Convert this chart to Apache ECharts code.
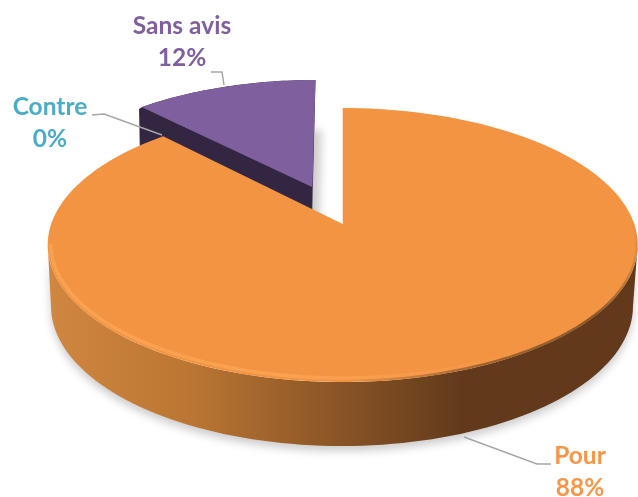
<!DOCTYPE html>
<html>
<head>
<meta charset="utf-8">
<style>
  html, body { margin: 0; padding: 0; background: #fff; }
  #chart { width: 638px; height: 497px; }
</style>
<script src="https://cdn.jsdelivr.net/npm/echarts@6/dist/echarts.min.js"></script>
</head>
<body>
<div id="chart"></div>
<script>
const categories = ['Pour', 'Contre', 'Sans avis'];
const values = [88, 0, 12];
const labelColors = ['#F79646', '#4BACC6', '#7F5F9F'];

// ellipse of each slice's top face, purple one is pulled out and sits further back
const mainDisc = { cx: 342.7, cy: 245, rx: 295, ry: 137, apexDx: 0, apexDy: 21 };
const pulledDisc = { cx: 315.5, cy: 211, rx: 285, ry: 131, apexDx: -3, apexDy: 24 };
const baseDisc = { cx: 342, cy: 306, rx: 291, ry: 140 };
const pulledWall = 55;
// perspective squeeze of the angles around the projected centre
const squeeze = 0.857;

const labelLayout = [
  { x: 580, y: 472, line: [[551, 464], [537, 464], [464, 437]] },
  { x: 50, y: 123, line: [[92, 115], [104, 114], [162, 135]] },
  { x: 182, y: 42, line: [[211, 72], [222, 72], [224, 85]] }
];

const total = values.reduce((a, b) => a + b, 0);

function paramOf(theta) {
  let wrap = 0;
  if (theta > Math.PI) { theta -= 2 * Math.PI; wrap = 2 * Math.PI; }
  if (Math.abs(theta) >= Math.PI - 1e-6) return Math.PI;
  return 2 * Math.atan(squeeze * Math.tan(theta / 2)) + wrap;
}

function pt(d, t) {
  return [d.cx + d.rx * Math.sin(t), d.cy - d.ry * Math.cos(t)];
}

function arc(d, from, to, steps) {
  const pts = [];
  for (let i = 0; i <= steps; i++) pts.push(pt(d, from + (to - from) * i / steps));
  return pts;
}

function renderLabel(i, share) {
  const lay = labelLayout[i];
  return [
    {
      type: 'polyline',
      silent: true,
      z2: 30,
      shape: { points: lay.line },
      style: { fill: null, stroke: '#A6A6A6', lineWidth: 1.5 }
    },
    {
      type: 'text',
      silent: true,
      z2: 31,
      style: {
        x: lay.x,
        y: lay.y,
        text: categories[i] + '\n' + share + '%',
        fill: labelColors[i],
        font: 'bold 24.5px Lato',
        lineHeight: 32,
        align: 'center',
        verticalAlign: 'middle'
      }
    }
  ];
}

function renderPour(start, end) {
  const d = mainDisc;
  const t0 = paramOf(start), t1 = paramOf(end);
  const wall = arc(baseDisc, Math.PI / 2, 3 * Math.PI / 2, 90)
    .concat(arc(d, 3 * Math.PI / 2, Math.PI / 2, 90));
  const face = [[d.cx + d.apexDx, d.cy - d.apexDy]].concat(arc(d, t0, t1, 180));
  const inner = { cx: d.cx, cy: d.cy - 1, rx: d.rx - 3, ry: d.ry - 3 };
  const rimLight = new echarts.graphic.LinearGradient(0, 0, 1, 0, [
    { offset: 0, color: 'rgba(252,165,83,0.8)' },
    { offset: 0.55, color: 'rgba(252,165,83,0.8)' },
    { offset: 1, color: 'rgba(252,165,83,0)' }
  ]);
  const rimDark = new echarts.graphic.LinearGradient(1, 0, 0, 1, [
    { offset: 0, color: 'rgba(110,66,30,0)' },
    { offset: 0.25, color: 'rgba(110,66,30,0.75)' },
    { offset: 0.6, color: 'rgba(110,66,30,0.6)' },
    { offset: 1, color: 'rgba(110,66,30,0)' }
  ]);
  return [
    {
      type: 'polygon',
      silent: true,
      z2: 10,
      shape: { points: wall },
      style: {
        fill: new echarts.graphic.LinearGradient(0, 0, 1, 0, [
          { offset: 0, color: '#D08740' },
          { offset: 0.24, color: '#BB7633' },
          { offset: 0.48, color: '#8C5627' },
          { offset: 0.7, color: '#623A1B' },
          { offset: 1, color: '#623A1B' }
        ]),
        shadowColor: 'rgba(0,0,0,0.2)',
        shadowBlur: 9,
        shadowOffsetY: 5
      }
    },
    {
      type: 'polygon',
      silent: true,
      z2: 11,
      shape: { points: face },
      style: { fill: '#F39443' }
    },
    {
      type: 'polyline',
      silent: true,
      z2: 12,
      shape: { points: arc(inner, 3 * Math.PI / 2, Math.PI * 0.8, 80) },
      style: { fill: null, stroke: rimLight, lineWidth: 3.5 }
    },
    {
      type: 'polyline',
      silent: true,
      z2: 12,
      shape: { points: arc({ cx: d.cx, cy: d.cy, rx: d.rx - 1, ry: d.ry - 1 }, Math.PI * 0.45, Math.PI, 60) },
      style: { fill: null, stroke: rimDark, lineWidth: 2.5 }
    }
  ];
}

function renderSansAvis(start, end) {
  const d = pulledDisc;
  // clockwise from 88%, measured back from the top
  const t0 = paramOf(start - 2 * Math.PI), t1 = 0;
  const apex = [d.cx + d.apexDx, d.cy - d.apexDy];
  const corner = pt(d, t0);
  const face = [apex].concat(arc(d, t0, t1, 40));
  const foot = [apex[0] - 1, apex[1] + pulledWall];
  const side = [corner, apex, foot, [corner[0] - 2, corner[1] + pulledWall], [corner[0] - 3, corner[1] + 2]];
  return [
    {
      type: 'polygon',
      silent: true,
      z2: 4,
      shape: { points: face.concat([foot]) },
      style: { fill: '#332643', shadowColor: 'rgba(0,0,0,0.2)', shadowBlur: 8, shadowOffsetX: 6, shadowOffsetY: 50 }
    },
    {
      type: 'polygon',
      silent: true,
      z2: 5,
      shape: { points: side },
      style: { fill: '#332643' }
    },
    {
      type: 'polygon',
      silent: true,
      z2: 6,
      shape: { points: face },
      style: { fill: '#7F5F9D' }
    }
  ];
}

const chart = echarts.init(document.getElementById('chart'), null, { renderer: 'canvas' });

chart.setOption({
  backgroundColor: '#ffffff',
  animation: false,
  tooltip: { show: false },
  series: [
    {
      type: 'custom',
      coordinateSystem: 'none',
      silent: true,
      clip: false,
      data: values.map((v, i) => ({ name: categories[i], value: [v] })),
      renderItem: (params, api) => {
        const i = params.dataIndex;
        const share = api.value(0);
        let before = 0;
        for (let k = 0; k < i; k++) before += values[k];
        const start = before / total * 2 * Math.PI;
        const end = (before + share) / total * 2 * Math.PI;
        let children = [];
        if (share > 0) children = i === 0 ? renderPour(start, end) : renderSansAvis(start, end);
        return { type: 'group', children: children.concat(renderLabel(i, share)) };
      }
    }
  ]
});
</script>
</body>
</html>
